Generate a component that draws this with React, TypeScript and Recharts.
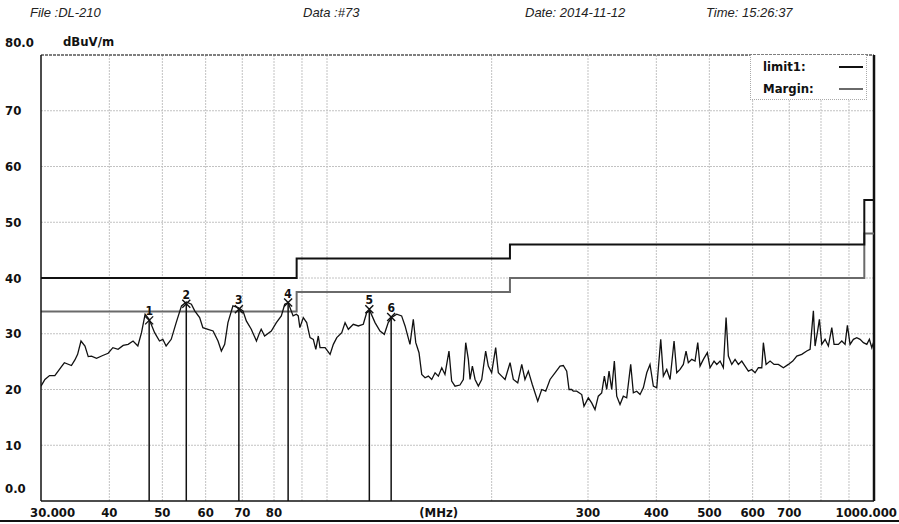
import React from "react";
import {
  ComposedChart,
  Line,
  Scatter,
  XAxis,
  YAxis,
  ReferenceLine,
} from "recharts";

// ---------- data ----------
const traceFreq = [
  30.0, 30.5, 31.1, 31.8, 32.7, 33.1, 34.1, 34.6, 35.0, 35.5, 36.1, 36.6, 37.1, 37.9, 38.9, 39.8,
  40.6, 41.5, 42.4, 43.3, 44.2, 45.1, 45.8, 46.5, 47.3, 48.4, 49.4, 50.1, 50.8, 51.9, 53.0, 54.2,
  55.3, 56.5, 57.3, 58.5, 59.3, 60.6, 61.9, 63.2, 64.1, 65.0, 65.9, 67.3, 68.8, 70.2, 71.2, 72.7,
  74.3, 75.3, 75.8, 76.9, 79.1, 80.8, 82.5, 83.7, 84.9, 86.7, 87.9, 88.6, 89.2, 90.5, 91.8, 93.1,
  94.4, 95.4, 96.4, 97.1, 99.2, 101.3, 102.7, 104.2, 106.4, 107.9, 109.4, 111.7, 114.1, 116.5,
  118.2, 119.8, 122.4, 125.0, 127.3, 129.4, 131.3, 134.1, 136.9, 138.9, 141.8, 143.8, 145.3,
  147.3, 149.0, 151.1, 153.2, 155.4, 157.6, 159.8, 162.1, 164.3, 167.1, 169.0, 171.4, 175.0,
  177.5, 179.3, 181.3, 182.6, 184.4, 186.5, 189.1, 191.8, 195.0, 197.2, 200.0, 203.4, 205.7,
  208.6, 211.6, 216.1, 219.1, 223.2, 227.0, 230.1, 233.4, 237.3, 242.8, 246.9, 251.1, 255.7,
  261.1, 266.7, 270.4, 274.3, 277.0, 280.1, 282.0, 286.1, 292.2, 295.0, 300.4, 304.7, 309.0,
  313.3, 317.8, 321.4, 324.6, 327.8, 331.5, 335.2, 338.6, 343.3, 348.1, 353.1, 359.1, 363.1,
  368.3, 373.5, 378.7, 384.2, 389.5, 395.0, 400.7, 407.5, 412.0, 417.9, 423.8, 431.0, 435.9,
  442.0, 448.2, 453.3, 457.7, 464.3, 470.8, 476.2, 480.8, 487.6, 495.8, 501.5, 510.0, 515.9,
  523.1, 530.4, 536.5, 541.7, 549.5, 557.2, 565.0, 573.1, 581.1, 589.3, 597.8, 606.1, 614.6,
  623.5, 627.7, 634.9, 645.7, 656.6, 668.6, 682.9, 697.4, 710.4, 722.5, 737.8, 753.5, 764.1,
  774.8, 780.3, 787.9, 794.6, 802.6, 813.9, 825.2, 837.2, 845.3, 860.8, 873.2, 885.4, 894.0,
  904.2, 916.9, 930.1, 943.1, 956.4, 970.2, 980.8, 990.8, 1000,
];
const traceLevel = [
  20.6, 21.8, 22.5, 22.5, 24.1, 24.8, 24.3, 25.3, 26.3, 28.7, 27.8, 25.9, 26.0, 25.6, 26.1, 26.5,
  27.5, 27.2, 27.9, 28.1, 28.7, 27.8, 30.2, 33.5, 32.6, 30.2, 28.7, 29.0, 27.8, 29.0, 32.0, 35.0,
  35.7, 35.3, 34.1, 32.9, 31.1, 30.8, 30.5, 28.7, 26.9, 28.1, 32.0, 35.0, 34.7, 34.1, 32.3, 30.8,
  28.7, 30.2, 30.8, 29.6, 30.5, 32.0, 33.2, 35.3, 35.6, 33.2, 33.5, 33.2, 31.1, 32.9, 32.0, 29.3,
  29.0, 27.2, 29.6, 27.5, 27.5, 26.3, 28.1, 29.3, 30.2, 32.0, 30.8, 31.7, 31.4, 31.7,
  33.8, 34.1, 32.0, 30.5, 29.9, 32.0, 32.9, 33.5, 33.2, 31.4, 28.1, 32.6, 28.4,
  26.6, 22.7, 22.1, 22.4, 21.8, 23.0, 22.4, 23.9, 22.7, 26.9, 21.5, 20.6, 20.8,
  21.8, 28.4, 25.4, 21.8, 24.2, 21.8, 20.6, 21.8, 26.9, 24.2, 23.0, 27.5, 23.0,
  22.4, 21.8, 24.8, 21.8, 21.2, 24.5, 21.8, 23.3, 20.9, 17.9, 20.0, 19.7, 21.8,
  23.0, 24.2, 24.3, 23.3, 20.0, 20.0, 19.7, 19.7, 19.1, 17.0, 18.5, 17.6, 16.4,
  18.8, 19.4, 22.4, 20.0, 23.3, 20.0, 25.1, 18.8, 17.3, 18.8, 18.5, 24.5, 19.4,
  19.7, 19.1, 20.3, 23.0, 24.5, 20.6, 20.3, 29.0, 22.4, 23.6, 21.8, 28.7, 23.0,
  23.6, 24.5, 26.9, 24.8, 25.4, 25.1, 28.4, 24.2, 25.4, 26.6, 23.9, 25.1, 24.5,
  25.1, 23.9, 32.9, 26.0, 24.5, 25.4, 24.5, 25.1, 24.2, 23.3, 23.6, 23.0, 23.9,
  23.9, 28.4, 24.5, 25.1, 24.5, 24.5, 23.9, 24.5, 25.1, 26.0, 26.3, 26.9, 27.2,
  34.1, 27.8, 30.2, 32.6, 28.1, 29.0, 27.8, 31.1, 28.1, 28.1, 28.7, 28.1, 31.5,
  28.1, 29.0, 29.3, 29.0, 28.4, 28.1, 29.0, 27.5, 28.7,
];

const limitFreq = [30, 88, 216, 960, 1000];
const limitLevel = [40, 43.5, 46, 54, 54];
const marginLevel = [34, 37.5, 40, 48, 48];

const markerLabels = ["1", "2", "3", "4", "5", "6"];
const markerFreq = [47.3, 55.3, 69.0, 84.9, 119.5, 131.0];
const markerLevel = [32.4, 35.4, 34.4, 35.6, 34.4, 33.0];

const yTicks = [0, 10, 20, 30, 40, 50, 60, 70, 80];
const yTickLabels = ["0.0", "10", "20", "30", "40", "50", "60", "70", "80.0"];
const xTicks = [30, 40, 50, 60, 70, 80, 160, 300, 400, 500, 600, 700, 1000];
const xTickLabels = ["30.000", "40", "50", "60", "70", "80", "(MHz)", "300", "400", "500", "600", "700", "1000.000"];
const xGrid = [40, 50, 60, 70, 80, 90, 100, 200, 300, 400, 500, 600, 700, 800, 900];
const yGrid = [10, 20, 30, 40, 50, 60, 70];

const traceData = traceFreq.map((f, i) => ({ freq: f, value: traceLevel[i] }));
const limitData = limitFreq.map((f, i) => ({ freq: f, value: limitLevel[i] }));
const marginData = limitFreq.map((f, i) => ({ freq: f, value: marginLevel[i] }));
const markerData = markerFreq.map((f, i) => ({ freq: f, value: markerLevel[i], label: markerLabels[i] }));

// ---------- styles ----------
const NARROW = "'Liberation Sans Narrow', 'Arial Narrow', 'DejaVu Sans Condensed', 'Liberation Sans', sans-serif";
const ITALIC = "'Liberation Sans', Arial, sans-serif";
const GRID = "#c2c2c2";

function YTick(props: any) {
  const { x, y, payload } = props;
  const idx = yTicks.indexOf(payload.value);
  const edge = payload.value === 0 || payload.value === 80;
  return (
    <text
      x={x - 36}
      y={(edge ? y - 13 : y) + 4.5}
      textAnchor="start"
      fontFamily={NARROW}
      fontWeight="bold"
      fontSize={13}
      fill="#111"
    >
      {yTickLabels[idx]}
    </text>
  );
}

function XTick(props: any) {
  const { x, y, payload } = props;
  const idx = xTicks.indexOf(payload.value);
  let anchor: any = "middle";
  let dx = 0;
  if (idx === 0) {
    anchor = "start";
    dx = -11;
  } else if (idx === xTicks.length - 1) {
    anchor = "end";
    dx = 23;
  }
  return (
    <text
      x={x + dx}
      y={y + 16}
      textAnchor={anchor}
      fontFamily={NARROW}
      fontWeight="bold"
      fontSize={13}
      fill="#111"
    >
      {xTickLabels[idx]}
    </text>
  );
}

function MarkerShape(props: any) {
  const { cx, cy, payload } = props;
  const s = 4;
  return (
    <g>
      <path
        d={`M${cx - s},${cy - s}L${cx + s},${cy + s}M${cx + s},${cy - s}L${cx - s},${cy + s}`}
        stroke="#111"
        strokeWidth={1.4}
        fill="none"
      />
      <text
        x={cx}
        y={cy - 5}
        textAnchor="middle"
        fontFamily={NARROW}
        fontWeight="bold"
        fontSize={12}
        fill="#111"
      >
        {payload.label}
      </text>
    </g>
  );
}

export default function App() {
  return (
    <div style={{ position: "absolute", left: 0, top: 0, width: 899, height: 524, background: "#fff" }}>
      {/* header */}
      <div style={{ position: "absolute", top: 5, left: 30, fontFamily: ITALIC, fontStyle: "italic", fontSize: 13, color: "#222" }}>File :DL-210</div>
      <div style={{ position: "absolute", top: 5, left: 303, fontFamily: ITALIC, fontStyle: "italic", fontSize: 13, color: "#222" }}>Data :#73</div>
      <div style={{ position: "absolute", top: 5, left: 525, fontFamily: ITALIC, fontStyle: "italic", fontSize: 13, color: "#222" }}>Date: 2014-11-12</div>
      <div style={{ position: "absolute", top: 5, left: 706, fontFamily: ITALIC, fontStyle: "italic", fontSize: 13, color: "#222" }}>Time: 15:26:37</div>
      <div style={{ position: "absolute", top: 34, left: 63, fontFamily: NARROW, fontWeight: "bold", fontSize: 13, color: "#111" }}>dBuV/m</div>

      <ComposedChart
        width={899}
        height={524}
        margin={{ top: 55, right: 25, bottom: 1, left: 5 }}
        style={{ position: "absolute", left: 0, top: 0 }}
      >
        <XAxis
          dataKey="freq"
          type="number"
          scale="log"
          domain={[30, 1000]}
          allowDataOverflow
          ticks={xTicks}
          interval={0}
          height={22}
          tickSize={0}
          tickMargin={0}
          tickLine={false}
          tick={<XTick />}
          axisLine={{ stroke: "#111", strokeWidth: 1.5 }}
        />
        <YAxis
          type="number"
          domain={[0, 80]}
          ticks={yTicks}
          interval={0}
          width={36}
          tickSize={0}
          tickMargin={0}
          tickLine={false}
          tick={<YTick />}
          axisLine={{ stroke: "#111", strokeWidth: 1.5 }}
          allowDataOverflow
        />

        {yGrid.map((v) => (
          <ReferenceLine key={"hy" + v} y={v} stroke={GRID} strokeDasharray="2 1" strokeWidth={1} />
        ))}
        {xGrid.map((v) => (
          <ReferenceLine key={"vx" + v} x={v} stroke={GRID} strokeDasharray="2 1" strokeWidth={1} />
        ))}
        <ReferenceLine y={80} stroke="#555" strokeWidth={1.5} strokeDasharray="3 1" />
        <ReferenceLine x={1000} stroke="#111" strokeWidth={2.5} />

        <Line
          data={marginData}
          dataKey="value"
          type="stepAfter"
          stroke="#6a6a6a"
          strokeWidth={2}
          dot={false}
          isAnimationActive={false}
        />
        <Line
          data={limitData}
          dataKey="value"
          type="stepAfter"
          stroke="#111"
          strokeWidth={2}
          dot={false}
          isAnimationActive={false}
        />
        <Line
          data={traceData}
          dataKey="value"
          type="linear"
          stroke="#111"
          strokeWidth={1.3}
          dot={false}
          isAnimationActive={false}
        />

        {markerData.map((m) => (
          <ReferenceLine
            key={"mk" + m.label}
            segment={[
              { x: m.freq, y: 0 },
              { x: m.freq, y: m.value },
            ]}
            stroke="#111"
            strokeWidth={1.5}
          />
        ))}
        <Scatter data={markerData} dataKey="value" shape={<MarkerShape />} isAnimationActive={false} />
      </ComposedChart>

      {/* legend */}
      <div
        style={{
          position: "absolute",
          left: 750,
          top: 55,
          width: 117,
          height: 45,
          border: "1px dotted #aaa",
          borderTop: "none",
          boxSizing: "border-box",
          background: "#fff",
          fontFamily: NARROW,
          fontWeight: "bold",
          fontSize: 13,
          color: "#111",
        }}
      >
        <div style={{ position: "absolute", left: 12, top: 4 }}>limit1:</div>
        <div style={{ position: "absolute", left: 88, top: 11, width: 24, height: 2, background: "#111" }} />
        <div style={{ position: "absolute", left: 12, top: 26 }}>Margin:</div>
        <div style={{ position: "absolute", left: 88, top: 33, width: 24, height: 2, background: "#6a6a6a" }} />
      </div>

      {/* bottom page rule */}
      <div style={{ position: "absolute", left: 0, top: 520, width: 899, height: 2, background: "#111" }} />
    </div>
  );
}
